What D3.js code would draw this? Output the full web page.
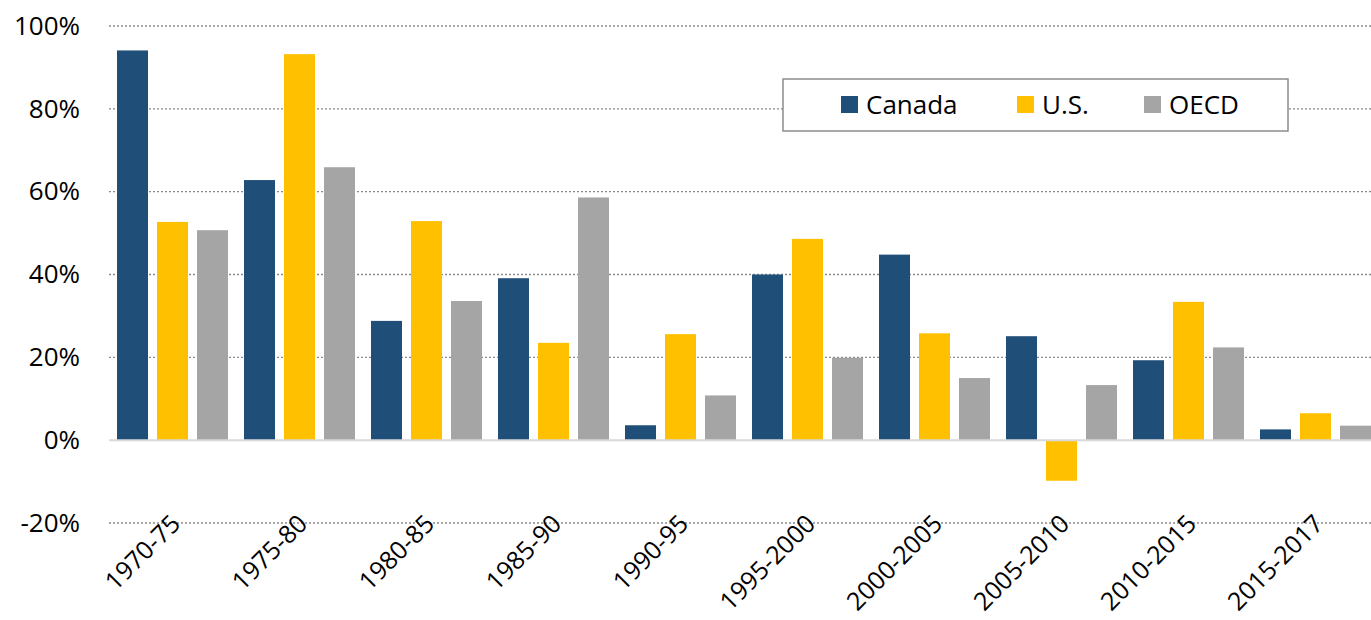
<!DOCTYPE html>
<html>
<head>
<meta charset="utf-8">
<script src="https://cdn.jsdelivr.net/npm/d3@7"></script>
<style>
  body { margin: 0; background: #fff; }
  text { font-family: "Open Sans", "Noto Sans", sans-serif; }
</style>
</head>
<body>
<svg id="vis"></svg>
<script>
const width = 1371;
const height = 620;
const margin = { top: 26, bottom: 97, left: 109, right: -8 };

const periods = ["1970-75", "1975-80", "1980-85", "1985-90", "1990-95",
  "1995-2000", "2000-2005", "2005-2010", "2010-2015", "2015-2017"];
const seriesNames = ["Canada", "U.S.", "OECD"];
const canada = [94.1, 62.8, 28.8, 39.1, 3.6, 40.0, 44.8, 25.1, 19.3, 2.6];
const us = [52.7, 93.2, 52.9, 23.5, 25.6, 48.6, 25.8, -9.8, 33.4, 6.5];
const oecd = [50.7, 65.9, 33.6, 58.6, 10.8, 19.9, 15.0, 13.3, 22.4, 3.5];
const yTicks = [-20, 0, 20, 40, 60, 80, 100];
const colors = ["#1f4e79", "#ffc000", "#a5a5a5"];

const svg = d3.select("svg#vis").attr("width", width).attr("height", height);
const plot = svg.append("g").attr("transform", translate(margin.left, margin.top));

const innerW = width - margin.left - margin.right;
const innerH = height - margin.top - margin.bottom;

const x = d3.scaleBand().domain(periods).range([0, innerW]).paddingInner(0.126).paddingOuter(0.063);
const xs = d3.scaleBand().domain(seriesNames).range([0, x.bandwidth()]).paddingInner(0.225);
const y = d3.scaleLinear().domain([-20, 100]).range([innerH, 0]);

// dotted gridlines
plot.selectAll(".grid")
  .data(yTicks.filter(t => t !== 0))
  .enter()
  .append("line")
  .attr("x1", 0)
  .attr("x2", width)
  .attr("y1", d => y(d))
  .attr("y2", d => y(d))
  .style("stroke", "#8a8a8a")
  .style("stroke-width", 1.3)
  .style("stroke-dasharray", "2,2");

const yAxis = plot.append("g")
  .call(d3.axisLeft(y).tickValues(yTicks).tickFormat(d => d + "%").tickSize(0).tickPadding(29));
yAxis.select(".domain").remove();
yAxis.selectAll("text")
  .style("font-size", "26px")
  .style("fill", "#000");

const rows = periods.map((p, i) => ({ period: p, values: [canada[i], us[i], oecd[i]] }));

const groups = plot.selectAll(".group")
  .data(rows)
  .enter()
  .append("g")
  .attr("transform", d => translate(x(d.period), 0));

groups.selectAll("rect")
  .data(d => d.values.map((v, j) => ({ name: seriesNames[j], value: v, color: colors[j] })))
  .enter()
  .append("rect")
  .attr("x", d => xs(d.name))
  .attr("width", xs.bandwidth())
  .attr("y", d => y(Math.max(0, d.value)))
  .attr("height", d => Math.abs(y(d.value) - y(0)))
  .style("fill", d => d.color);

// zero line
plot.append("line")
  .attr("x1", 0)
  .attr("x2", width)
  .attr("y1", y(0))
  .attr("y2", y(0))
  .style("stroke", "#d9d9d9")
  .style("stroke-width", 2);

// rotated category labels
plot.selectAll(".xlabel")
  .data(periods)
  .enter()
  .append("text")
  .attr("transform", d => translate(x(d) + x.bandwidth() / 2 - 3, y(-20) - 10) + " rotate(-45)")
  .attr("text-anchor", "end")
  .attr("dy", "0.7em")
  .style("font-size", "25px")
  .style("fill", "#000")
  .text(d => d);

// legend
const legend = svg.append("g").attr("transform", translate(783, 79));
legend.append("rect")
  .attr("width", 505)
  .attr("height", 52)
  .style("fill", "#fff")
  .style("stroke", "#8c8c8c")
  .style("stroke-width", 1.5);

const legendX = [58, 234, 361];
const items = legend.selectAll(".item")
  .data(seriesNames)
  .enter()
  .append("g")
  .attr("transform", (d, i) => translate(legendX[i], 0));
items.append("rect")
  .attr("y", 17)
  .attr("width", 17)
  .attr("height", 17)
  .style("fill", (d, i) => colors[i]);
items.append("text")
  .attr("x", 25)
  .attr("y", 26)
  .attr("dy", "0.36em")
  .style("font-size", "26px")
  .style("fill", "#000")
  .text(d => d);

function translate(x, y) {
  return "translate(" + String(x) + "," + String(y) + ")";
}
</script>
</body>
</html>
